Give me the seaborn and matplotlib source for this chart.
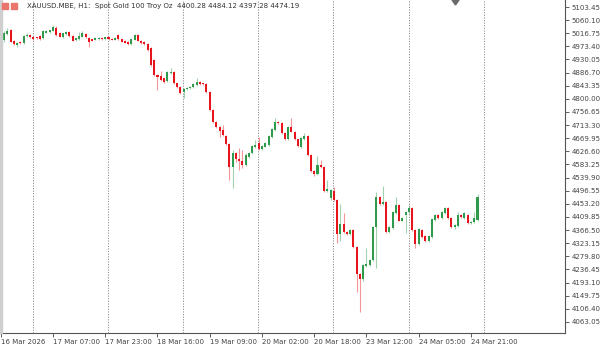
import matplotlib
matplotlib.use("Agg")
import matplotlib.pyplot as plt
import seaborn as sns
import pandas as pd

# XAUUSD H1 candles (16 Mar 15:00 -> 24 Mar 23:00)
opens = [4994, 5014, 5027, 4991, 4979, 4989, 4983, 5007, 5012, 5005,
         5003, 5008, 5000, 5019, 5020, 5025, 5033, 5019, 5003, 5014,
         5022, 5008, 4994, 4997, 5005, 5014, 5000, 4997, 4996, 4998,
         5002, 4997, 5003, 4999, 4996, 5011, 4997, 4992, 4989, 4981,
         4995, 5011, 4992, 4989, 4981, 4967, 4928, 4879, 4876, 4868,
         4860, 4885, 4890, 4851, 4840, 4824, 4832, 4836, 4838, 4846,
         4857, 4851, 4849, 4824, 4763, 4725, 4708, 4697, 4677, 4651,
         4576, 4621, 4601, 4596, 4582, 4609, 4620, 4640, 4653, 4633,
         4642, 4648, 4675, 4697, 4725, 4719, 4686, 4666, 4706, 4692,
         4666, 4642, 4666, 4677, 4615, 4563, 4552, 4582, 4574, 4497,
         4472, 4497, 4466, 4354, 4387, 4361, 4354, 4367, 4310, 4222,
         4204, 4248, 4251, 4268, 4378, 4477, 4453, 4460, 4361, 4373,
         4424, 4449, 4398, 4416, 4425, 4441, 4367, 4320, 4367, 4348,
         4331, 4345, 4400, 4418, 4407, 4422, 4439, 4407, 4378, 4381,
         4418, 4407, 4418, 4389, 4392, 4400.28]
closes = [5019, 5025, 4989, 4981, 4985, 4985, 5008, 5012, 5003, 4997,
          5000, 4997, 5025, 5024, 5026, 5038, 5011, 5005, 5017, 5022,
          5008, 4992, 5000, 5008, 5017, 5003, 4989, 4992, 5001, 5002,
          4998, 5003, 4997, 4996, 5001, 4997, 4989, 4985, 4981, 4997,
          5011, 4992, 4984, 4981, 4961, 4912, 4879, 4871, 4862, 4857,
          4890, 4890, 4851, 4840, 4818, 4832, 4837, 4840, 4849, 4857,
          4849, 4848, 4824, 4763, 4725, 4708, 4695, 4681, 4651, 4574,
          4621, 4600, 4596, 4582, 4615, 4621, 4644, 4648, 4633, 4644,
          4653, 4677, 4699, 4725, 4719, 4686, 4666, 4706, 4692, 4666,
          4644, 4670, 4677, 4615, 4563, 4552, 4582, 4574, 4497, 4501,
          4499, 4466, 4354, 4387, 4361, 4354, 4367, 4310, 4222, 4204,
          4251, 4255, 4268, 4378, 4477, 4453, 4460, 4361, 4376, 4427,
          4449, 4398, 4406, 4427, 4441, 4367, 4320, 4370, 4345, 4331,
          4347, 4403, 4418, 4407, 4425, 4439, 4405, 4378, 4383, 4416,
          4411, 4422, 4389, 4394, 4405, 4474.19]
highs = [5024, 5034, 5031, 4993, 4988, 4992, 5010, 5017, 5015, 5007,
         5005, 5010, 5028, 5026, 5028, 5045, 5040, 5021, 5019, 5024,
         5024, 5010, 5002, 5020, 5025, 5016, 5003, 4999, 5003, 5004,
         5004, 5005, 5006, 5001, 5003, 5014, 4999, 4995, 4991, 4999,
         5013, 5013, 4994, 4991, 4983, 4970, 4932, 4882, 4892, 4870,
         4893, 4902, 4892, 4854, 4843, 4835, 4840, 4843, 4852, 4869,
         4860, 4853, 4852, 4826, 4766, 4728, 4711, 4714, 4680, 4654,
         4631, 4624, 4638, 4631, 4620, 4625, 4648, 4664, 4674, 4647,
         4657, 4682, 4703, 4737, 4728, 4722, 4690, 4710, 4736, 4695,
         4669, 4673, 4687, 4680, 4618, 4566, 4611, 4598, 4577, 4532,
         4502, 4509, 4469, 4453, 4423, 4364, 4370, 4370, 4313, 4225,
         4254, 4307, 4271, 4381, 4494, 4480, 4512, 4463, 4379, 4430,
         4476, 4452, 4409, 4430, 4449, 4444, 4370, 4373, 4370, 4351,
         4350, 4406, 4421, 4421, 4428, 4442, 4442, 4410, 4386, 4426,
         4421, 4425, 4421, 4397, 4425, 4484.12]
lows = [4989, 5011, 4988, 4978, 4972, 4982, 4981, 5005, 5001, 4994,
        4998, 4995, 4998, 5017, 5018, 5023, 5009, 5003, 5000, 5012,
        5006, 4990, 4991, 4995, 5003, 5000, 4972, 4990, 4994, 4996,
        4996, 4995, 4995, 4994, 4994, 4995, 4987, 4983, 4979, 4979,
        4993, 4990, 4982, 4979, 4958, 4908, 4875, 4829, 4859, 4854,
        4857, 4882, 4848, 4837, 4815, 4803, 4830, 4834, 4836, 4843,
        4847, 4846, 4821, 4760, 4720, 4704, 4675, 4678, 4648, 4532,
        4506, 4591, 4565, 4572, 4578, 4606, 4617, 4637, 4630, 4631,
        4640, 4645, 4672, 4694, 4716, 4683, 4663, 4663, 4689, 4663,
        4641, 4639, 4663, 4612, 4560, 4545, 4549, 4571, 4494, 4494,
        4466, 4463, 4324, 4331, 4358, 4351, 4351, 4306, 4163, 4097,
        4200, 4245, 4248, 4265, 4241, 4450, 4450, 4358, 4358, 4370,
        4421, 4395, 4395, 4357, 4422, 4364, 4307, 4317, 4342, 4328,
        4328, 4342, 4397, 4404, 4404, 4419, 4402, 4375, 4370, 4378,
        4408, 4404, 4386, 4386, 4389, 4397.28]

tick_bars = [-1, 15, 31, 47, 63, 79, 95, 111, 127, 143]
tick_labels = ['16 Mar 2026', '17 Mar 07:00', '17 Mar 23:00', '18 Mar 16:00',
               '19 Mar 09:00', '20 Mar 02:00', '20 Mar 18:00', '23 Mar 12:00',
               '24 Mar 05:00', '24 Mar 21:00']
day_starts = [9, 32, 55, 78, 101, 124, 147]
price_ticks = [5103.45 - 43.35 * k for k in range(25)]

header = 'XAUUSD.MBE, H1:  Spot Gold 100 Troy Oz  4400.28 4484.12 4397.28 4474.19'

df = pd.DataFrame({'open': opens, 'high': highs, 'low': lows, 'close': closes})
df['bar'] = range(len(df))
df['up'] = df['close'] >= df['open']

UP = '#2f9a4c'
DOWN = '#e8141c'

sns.set_style('white')
plt.rcParams['font.family'] = ['DejaVu Sans']

fig = plt.figure(figsize=(6, 3.45), dpi=100)
ax = fig.add_axes([0.0, 0.0348, 0.9417, 0.9652])

# day separators
for d in day_starts:
    ax.axvline(d - 0.1, color='#8a8a8a', lw=0.7, ls=(0, (1.2, 1.5)), zorder=1)

colors = [UP if u else DOWN for u in df['up']]
ax.vlines(df['bar'], df['low'], df['high'], colors=colors, lw=0.8, alpha=0.45, zorder=2)
body_lo = df[['open', 'close']].min(axis=1)
body_h = (df['close'] - df['open']).abs().clip(lower=2.5)
ax.bar(df['bar'], body_h, bottom=body_lo, width=0.62, color=colors, linewidth=0, zorder=3)

ax.set_xlim(-1.23, 171.8)
ax.set_ylim(4026.6, 5126.6)

ax.yaxis.tick_right()
ax.set_yticks(price_ticks)
ax.set_yticklabels([f'{p:.2f}' for p in price_ticks])
ax.set_xticks(tick_bars)
ax.set_xticklabels(tick_labels, ha='left')
ax.tick_params(axis='both', labelsize=5, colors='#444444', length=3, width=0.6, pad=1.5)
ax.tick_params(axis='y', direction='out', right=True, left=False)
ax.tick_params(axis='x', direction='out', bottom=True)

for side in ['top', 'left']:
    ax.spines[side].set_visible(False)
for side in ['right', 'bottom']:
    ax.spines[side].set_color('#555555')
    ax.spines[side].set_linewidth(0.8)

# thin window border on the left edge
fig.patches.append(plt.Rectangle((0, 12 / 345), 1.5 / 600, 333 / 345,
                                 transform=fig.transFigure, color='#cfcfcf', zorder=0))

# chart shift marker at the top
fig.patches.append(plt.Polygon([(452 / 600, 1.0), (459 / 600, 1.0), (455.5 / 600, 1 - 5 / 345)],
                               closed=True, transform=fig.transFigure, color='#6a6a6a', zorder=5))

# header with two small symbol icons
fig.patches.append(plt.Rectangle((1.5 / 600, 1 - 9 / 345), 6 / 600, 6 / 345,
                                 transform=fig.transFigure, color='#e9756b', zorder=5))
fig.patches.append(plt.Rectangle((10.5 / 600, 1 - 9 / 345), 6 / 600, 6 / 345,
                                 transform=fig.transFigure, color='#e9756b', zorder=5))
fig.text(27 / 600, 1 - 6 / 345, header, fontsize=5, color='#333333', va='center', ha='left')

fig.savefig('out.png', dpi=100)
